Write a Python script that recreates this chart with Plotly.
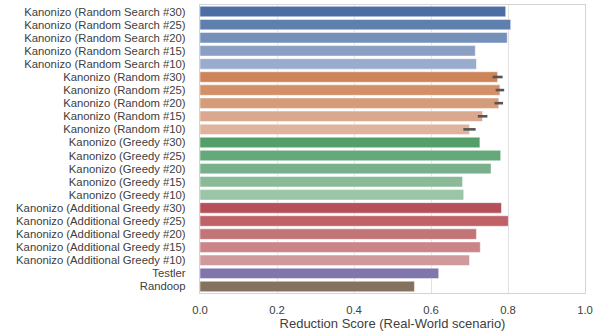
import plotly.graph_objects as go

labels = [
    "Kanonizo (Random Search #30)", "Kanonizo (Random Search #25)", "Kanonizo (Random Search #20)",
    "Kanonizo (Random Search #15)", "Kanonizo (Random Search #10)",
    "Kanonizo (Random #30)", "Kanonizo (Random #25)", "Kanonizo (Random #20)",
    "Kanonizo (Random #15)", "Kanonizo (Random #10)",
    "Kanonizo (Greedy #30)", "Kanonizo (Greedy #25)", "Kanonizo (Greedy #20)",
    "Kanonizo (Greedy #15)", "Kanonizo (Greedy #10)",
    "Kanonizo (Additional Greedy #30)", "Kanonizo (Additional Greedy #25)",
    "Kanonizo (Additional Greedy #20)", "Kanonizo (Additional Greedy #15)",
    "Kanonizo (Additional Greedy #10)",
    "Testler", "Randoop",
]
scores = [
    0.794, 0.807, 0.798, 0.715, 0.718,
    0.773, 0.779, 0.776, 0.734, 0.700,
    0.727, 0.781, 0.756, 0.682, 0.685,
    0.783, 0.801, 0.718, 0.728, 0.700,
    0.620, 0.557,
]
errors = [
    0, 0, 0, 0, 0,
    0.013, 0.011, 0.011, 0.0125, 0.016,
    0, 0, 0, 0, 0,
    0, 0, 0, 0, 0,
    0, 0,
]
colors = [
    "#4c6ea4", "#5f7fae", "#7590b9", "#8a9fc3", "#99acce",
    "#cd8459", "#d38f68", "#d59c7a", "#daa88e", "#dfb39e",
    "#539e69", "#65a87a", "#77b08a", "#8aba98", "#9bc5a6",
    "#b4505a", "#bf6268", "#c27476", "#c98587", "#d09a9c",
    "#8076ab", "#85725e",
]
x_ticks = [0.0, 0.2, 0.4, 0.6, 0.8, 1.0]

fig = go.Figure(
    go.Bar(
        x=scores,
        y=labels,
        orientation="h",
        width=0.8,
        marker=dict(color=colors, line=dict(color="rgba(255,255,255,0.6)", width=0.8)),
        error_x=dict(
            type="data",
            array=errors,
            visible=True,
            width=0,
            thickness=2.6,
            color="#555555",
        ),
    )
)

fig.update_layout(
    width=603,
    height=333,
    margin=dict(l=200, r=18, t=5, b=40),
    paper_bgcolor="white",
    plot_bgcolor="white",
    font=dict(family="Liberation Sans, Arial, sans-serif", size=11.3, color="#404040"),
    showlegend=False,
    bargap=0.2,
)
fig.update_xaxes(
    range=[0, 1.0],
    tickvals=x_ticks,
    ticktext=[f"{v:.1f}" for v in x_ticks],
    showgrid=True,
    gridcolor="#e2e2e2",
    gridwidth=1,
    zeroline=False,
    showline=True,
    linecolor="#d4d4d4",
    linewidth=1.2,
    mirror=True,
    ticks="",
    ticklabelstandoff=6,
    tickfont=dict(size=11.3, color="#404040"),
    title=dict(text="Reduction Score (Real-World scenario)", font=dict(size=13, color="#404040"), standoff=2),
)
fig.update_yaxes(
    autorange="reversed",
    tickmode="array",
    tickvals=labels,
    ticktext=labels,
    showgrid=False,
    zeroline=False,
    showline=True,
    linecolor="#d4d4d4",
    linewidth=1.2,
    mirror=True,
    ticks="",
    ticklabelstandoff=11,
    tickfont=dict(size=11.3, color="#404040"),
)

fig.write_html("out.html")
